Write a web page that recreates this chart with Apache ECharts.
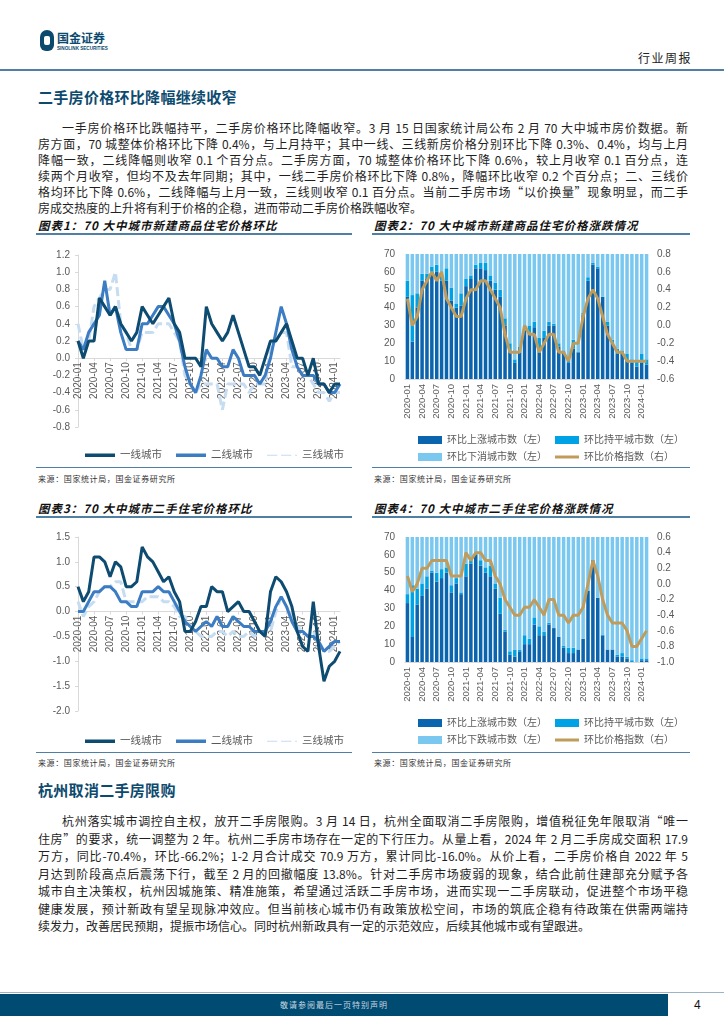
<!DOCTYPE html>
<html><head><meta charset="utf-8">
<script src="https://cdn.jsdelivr.net/npm/echarts@6/dist/echarts.min.js"></script>
<style>
body{margin:0;background:#fff;}
#page{position:relative;width:724px;height:1024px;overflow:hidden;background:#fff;font-family:"Noto Sans CJK SC","Noto Sans",sans-serif;color:#1a1a1a;}
.h1{position:absolute;left:38px;font-size:15px;font-weight:bold;color:#0c4a6e;letter-spacing:0.3px;line-height:18px;}
.para{position:absolute;left:38px;width:650px;font-size:12px;line-height:17.5px;color:#1f1f1f;}
.para div{text-align:justify;text-align-last:justify;}
.para div.last{text-align-last:left;}
.para div.ind{padding-left:24px;}
.ct{position:absolute;font-size:11.5px;font-weight:bold;font-style:italic;letter-spacing:1px;color:#111;line-height:14px;}
.rule{position:absolute;height:1.5px;background:#4f7fa3;}
.rule2{position:absolute;height:1px;background:#4f7fa3;}
.src{position:absolute;font-size:8px;color:#333;letter-spacing:0.6px;line-height:10px;}
.chart{position:absolute;}
</style></head>
<body><div id="page">

<!-- header -->
<div style="position:absolute;left:40px;top:30px;width:14px;height:21px;border-radius:7px 7px 6px 6px;background:#0b4a6e;"></div>
<div style="position:absolute;left:44px;top:36px;width:6px;height:9px;border-radius:2px;background:#fff;"></div>
<div style="position:absolute;left:57px;top:31px;font-size:12px;font-weight:bold;color:#0b4a6e;letter-spacing:0px;line-height:14px;">国金证券</div>
<div style="position:absolute;left:57px;top:46px;font-size:4.6px;font-weight:bold;color:#0b4a6e;font-family:'Liberation Sans',sans-serif;line-height:6px;letter-spacing:0px;">SINOLINK SECURITIES</div>
<div style="position:absolute;left:638px;top:51px;font-size:12px;letter-spacing:1.5px;color:#222;line-height:14px;">行业周报</div>
<div style="position:absolute;left:0;top:69px;width:724px;height:2px;background:#4f7fa3;"></div>

<div class="h1" style="top:88px;">二手房价格环比降幅继续收窄</div>
<div class="para" style="top:120px;line-height:16px;">
<div class="ind">一手房价格环比跌幅持平，二手房价格环比降幅收窄。3 月 15 日国家统计局公布 2 月 70 大中城市房价数据。新</div>
<div>房方面，70 城整体价格环比下降 0.4%，与上月持平；其中一线、三线新房价格分别环比下降 0.3%、0.4%，均与上月</div>
<div>降幅一致，二线降幅则收窄 0.1 个百分点。二手房方面，70 城整体价格环比下降 0.6%，较上月收窄 0.1 百分点，连</div>
<div>续两个月收窄，但均不及去年同期；其中，一线二手房价格环比下降 0.8%，降幅环比收窄 0.2 个百分点；二、三线价</div>
<div>格均环比下降 0.6%，二线降幅与上月一致，三线则收窄 0.1 百分点。当前二手房市场“以价换量”现象明显，而二手</div>
<div class="last">房成交热度的上升将有利于价格的企稳，进而带动二手房价格跌幅收窄。</div>
</div>

<!-- chart titles row 1 -->
<div class="ct" style="left:38px;top:218px;">图表1：70 大中城市新建商品住宅价格环比</div>
<div class="rule" style="left:36px;top:233px;width:316px;"></div>
<div class="ct" style="left:374px;top:218px;">图表2：70 大中城市新建商品住宅价格涨跌情况</div>
<div class="rule" style="left:372px;top:233px;width:318px;"></div>

<div id="c1" class="chart" style="left:30px;top:240px;width:330px;height:224px;"></div>
<div id="c2" class="chart" style="left:370px;top:240px;width:345px;height:224px;"></div>

<div class="rule2" style="left:36px;top:467px;width:316px;"></div>
<div class="rule2" style="left:372px;top:467px;width:318px;"></div>
<div class="src" style="left:38px;top:474px;">来源：国家统计局，国金证券研究所</div>
<div class="src" style="left:374px;top:474px;">来源：国家统计局，国金证券研究所</div>

<!-- chart titles row 2 -->
<div class="ct" style="left:38px;top:501px;">图表3：70 大中城市二手住宅价格环比</div>
<div class="rule" style="left:36px;top:516px;width:316px;"></div>
<div class="ct" style="left:374px;top:501px;">图表4：70 大中城市二手住宅价格涨跌情况</div>
<div class="rule" style="left:372px;top:516px;width:318px;"></div>

<div id="c3" class="chart" style="left:30px;top:525px;width:330px;height:224px;"></div>
<div id="c4" class="chart" style="left:370px;top:525px;width:345px;height:224px;"></div>

<div class="rule2" style="left:36px;top:752px;width:316px;"></div>
<div class="rule2" style="left:372px;top:752px;width:318px;"></div>
<div class="src" style="left:38px;top:758px;">来源：国家统计局，国金证券研究所</div>
<div class="src" style="left:374px;top:758px;">来源：国家统计局，国金证券研究所</div>

<div class="h1" style="top:781px;">杭州取消二手房限购</div>
<div class="para" style="top:812px;">
<div class="ind">杭州落实城市调控自主权，放开二手房限购。3 月 14 日，杭州全面取消二手房限购，增值税征免年限取消“唯一</div>
<div>住房”的要求，统一调整为 2 年。杭州二手房市场存在一定的下行压力。从量上看，2024 年 2 月二手房成交面积 17.9</div>
<div>万方，同比-70.4%，环比-66.2%；1-2 月合计成交 70.9 万方，累计同比-16.0%。从价上看，二手房价格自 2022 年 5</div>
<div>月达到阶段高点后震荡下行，截至 2 月的回撤幅度 13.8%。针对二手房市场疲弱的现象，结合此前住建部充分赋予各</div>
<div>城市自主决策权，杭州因城施策、精准施策，希望通过活跃二手房市场，进而实现一二手房联动，促进整个市场平稳</div>
<div>健康发展，预计新政有望呈现脉冲效应。但当前核心城市仍有政策放松空间，市场的筑底企稳有待政策在供需两端持</div>
<div class="last">续发力，改善居民预期，提振市场信心。同时杭州新政具有一定的示范效应，后续其他城市或有望跟进。</div>
</div>

<!-- footer -->
<div style="position:absolute;left:0;top:992px;width:724px;height:1px;background:#9bb4c8;"></div>
<div style="position:absolute;left:0;top:994px;width:668px;height:22px;background:#004b71;"></div>
<div style="position:absolute;left:0;top:999px;width:668px;text-align:center;font-size:8px;color:#c9d6e0;letter-spacing:1px;line-height:12px;">敬请参阅最后一页特别声明</div>
<div style="position:absolute;left:694px;top:997px;font-size:12px;color:#111;font-family:'Liberation Sans',sans-serif;line-height:16px;">4</div>

</div>
<script>
// ---------- data ----------
const months = ["2020-01","2020-02","2020-03","2020-04","2020-05","2020-06","2020-07","2020-08","2020-09","2020-10","2020-11","2020-12",
"2021-01","2021-02","2021-03","2021-04","2021-05","2021-06","2021-07","2021-08","2021-09","2021-10","2021-11","2021-12",
"2022-01","2022-02","2022-03","2022-04","2022-05","2022-06","2022-07","2022-08","2022-09","2022-10","2022-11","2022-12",
"2023-01","2023-02","2023-03","2023-04","2023-05","2023-06","2023-07","2023-08","2023-09","2023-10","2023-11","2023-12",
"2024-01","2024-02"];

// 图表1 新建商品住宅价格环比 (%)
const newTier1 = [0.2,0.0,0.2,0.2,0.7,0.6,0.5,0.6,0.4,0.3,0.2,0.3,0.6,0.5,0.4,0.5,0.6,0.7,0.4,0.3,0.0,0.0,0.0,-0.1,0.6,0.4,0.3,0.2,0.3,0.5,0.3,0.1,-0.1,-0.1,-0.2,0.0,0.2,0.2,0.3,0.4,0.2,0.0,0.0,-0.2,0.0,-0.3,-0.3,-0.4,-0.3,-0.3];
const newTier2 = [0.2,0.1,0.3,0.4,0.5,0.9,0.5,0.6,0.3,0.1,0.1,0.1,0.4,0.4,0.5,0.6,0.6,0.5,0.4,0.2,-0.1,-0.3,-0.4,-0.2,0.1,0.0,0.0,-0.1,-0.1,0.1,0.0,-0.2,-0.2,-0.2,-0.3,-0.2,0.0,0.3,0.6,0.4,0.1,-0.1,-0.2,-0.2,-0.2,-0.3,-0.3,-0.4,-0.4,-0.3];
const newTier3 = [0.4,0.1,0.2,0.6,0.7,0.8,0.8,1.0,0.4,0.3,0.1,0.1,0.3,0.3,0.3,0.4,0.4,0.4,0.3,0.2,-0.2,-0.3,-0.4,-0.3,-0.3,-0.3,-0.3,-0.6,-0.3,-0.3,-0.3,-0.3,-0.4,-0.3,-0.3,-0.3,0.1,0.2,0.3,0.3,-0.1,-0.1,-0.2,-0.2,-0.3,-0.4,-0.4,-0.5,-0.4,-0.4];

// 图表2 新建商品住宅涨跌城市数 / 环比价格指数
const newUp   = [46,21,40,55,56,60,60,55,55,44,40,41,52,56,62,62,61,55,50,46,30,15,9,15,27,26,29,15,23,30,30,18,15,9,17,15,36,55,64,62,46,30,20,14,14,10,9,7,9,8];
const newFlat = [9,26,8,4,3,3,4,3,7,7,2,7,4,2,2,3,4,3,4,4,4,5,2,3,3,4,3,8,4,2,1,2,1,2,5,0,1,2,1,1,0,2,2,3,2,4,2,3,5,3];
const newDown = [15,23,22,11,11,7,6,12,8,19,28,22,14,12,6,5,5,12,16,20,36,50,59,52,40,40,38,47,43,38,39,50,54,59,48,55,33,13,5,7,24,38,48,53,54,56,59,60,56,59];
const newIndex = [0.3,0.0,0.1,0.4,0.5,0.6,0.5,0.6,0.3,0.2,0.1,0.1,0.3,0.4,0.4,0.5,0.5,0.4,0.3,0.2,-0.1,-0.3,-0.3,-0.3,0.0,-0.1,-0.1,-0.3,-0.2,-0.1,-0.1,-0.3,-0.3,-0.4,-0.2,-0.2,0.1,0.3,0.4,0.3,0.1,-0.1,-0.2,-0.3,-0.3,-0.4,-0.4,-0.4,-0.4,-0.4];

// 图表3 二手住宅价格环比 (%)
const oldTier1 = [0.5,0.2,0.4,1.1,1.1,1.0,0.7,1.0,0.9,0.5,0.5,0.6,1.3,1.1,1.0,0.8,0.6,0.7,0.4,0.2,-0.4,-0.4,-0.2,0.1,0.1,0.5,0.4,0.4,0.0,0.1,0.2,0.0,0.0,-0.2,-0.4,-0.5,0.4,0.7,0.6,0.4,0.1,-0.4,-0.7,-0.8,0.2,-0.7,-1.4,-1.1,-1.0,-0.8];
const oldTier2 = [0.0,0.0,0.2,0.4,0.4,0.5,0.5,0.4,0.2,0.2,0.1,0.1,0.4,0.4,0.4,0.5,0.4,0.4,0.2,0.0,-0.2,-0.3,-0.4,-0.3,-0.2,-0.3,-0.1,-0.3,-0.3,-0.1,-0.2,-0.3,-0.3,-0.4,-0.4,-0.4,-0.2,0.1,0.3,0.1,-0.2,-0.4,-0.4,-0.5,-0.5,-0.6,-0.8,-0.7,-0.6,-0.6];
const oldTier3 = [0.2,-0.1,0.1,0.2,0.4,0.5,0.5,0.6,0.6,0.2,0.2,0.2,0.2,0.3,0.3,0.3,0.2,0.2,0.1,-0.1,-0.1,-0.3,-0.4,-0.5,-0.5,-0.5,-0.4,-0.4,-0.5,-0.4,-0.5,-0.5,-0.4,-0.5,-0.4,-0.4,-0.4,0.0,0.3,0.1,-0.1,-0.3,-0.4,-0.5,-0.4,-0.6,-0.8,-0.8,-0.7,-0.6];

// 图表4 二手住宅涨跌城市数 / 环比价格指数
const oldUp   = [33,14,32,37,41,50,45,47,50,39,44,38,48,55,60,54,50,48,41,27,17,4,3,6,10,10,21,15,15,21,19,14,8,5,5,7,13,40,57,36,15,7,7,3,3,2,0,0,1,1];
const oldFlat = [5,29,9,7,7,1,5,5,3,4,3,1,7,2,1,3,3,6,3,9,1,2,4,1,5,3,4,5,2,1,0,0,1,3,3,0,0,0,0,0,0,0,0,1,2,1,1,0,1,1];
const oldDown = [32,27,29,26,22,19,20,18,17,27,23,31,15,13,9,13,17,16,26,34,52,64,63,63,55,57,45,50,53,48,51,56,61,62,62,63,57,30,13,34,55,63,63,66,65,67,69,70,68,68];
const oldIndex = [0.1,-0.1,0.0,0.2,0.2,0.3,0.3,0.3,0.3,0.1,0.1,0.1,0.4,0.3,0.4,0.4,0.3,0.3,0.1,0.0,-0.2,-0.3,-0.4,-0.4,-0.3,-0.3,-0.2,-0.3,-0.4,-0.2,-0.2,-0.4,-0.4,-0.5,-0.4,-0.4,-0.3,0.0,0.3,0.1,-0.2,-0.4,-0.5,-0.5,-0.5,-0.6,-0.8,-0.8,-0.7,-0.6];

// ---------- styles ----------
const FONT = "'Liberation Sans','Noto Sans CJK SC',sans-serif";
const AXC = '#d9d9d9', LBC = '#595959';
const C1 = '#0e4b70', C2 = '#3b7cc2', C3 = '#c6dcf1';
const UPC = '#0b64ae', FLC = '#00a2e6', DNC = '#7ac8f0', IDX = '#bf9c5b';
const f1 = v => v.toFixed(1);
const DASH_ICON = 'path://M0,0h11v1h-11z M15,0h11v1h-11z M30,0h2v1h-2z';
const GOLD_ICON = 'path://M0,0h24v0.01h-24z M0,2.5h24v3h-24z M0,7.99h24v0.01h-24z';

function lineOpt(gridTop, gridH, yMin, yMax, yInt, d1, d2, d3, legTop) {
  const zeroOffset = -gridH * (-yMin) / (yMax - yMin);
  return {
    animation: false,
    textStyle: { fontFamily: FONT },
    grid: { left: 48, top: gridTop, width: 262, height: gridH },
    xAxis: { type: 'category', data: months, boundaryGap: false, position: 'bottom', offset: zeroOffset,
      axisLine: { onZero: false, lineStyle: { color: AXC } },
      axisTick: { show: true, interval: 2, length: 3, lineStyle: { color: AXC } },
      axisLabel: { interval: 2, rotate: 90, fontSize: 10, color: LBC, margin: 4 },
      splitLine: { show: false } },
    yAxis: { type: 'value', min: yMin, max: yMax, interval: yInt,
      axisLine: { show: true, lineStyle: { color: AXC } },
      axisTick: { show: true, length: 3, lineStyle: { color: AXC } },
      splitLine: { show: false },
      axisLabel: { fontSize: 10, color: LBC, margin: 8, formatter: f1 } },
    legend: { top: legTop, left: 50, itemWidth: 30, itemHeight: 3.5, itemGap: 14,
      textStyle: { fontSize: 10.5, color: LBC, fontFamily: FONT },
      data: [{ name: '一线城市', icon: 'rect' }, { name: '二线城市', icon: 'rect' }, { name: '三线城市', icon: DASH_ICON }] },
    series: [
      { type: 'line', name: '一线城市', data: d1, symbol: 'none', z: 4, lineStyle: { width: 3, color: C1 }, itemStyle: { color: C1 } },
      { type: 'line', name: '二线城市', data: d2, symbol: 'none', z: 3, lineStyle: { width: 3, color: C2 }, itemStyle: { color: C2 } },
      { type: 'line', name: '三线城市', data: d3, symbol: 'none', z: 2, lineStyle: { width: 3, color: C3, type: [9, 4] }, itemStyle: { color: C3 } }
    ]
  };
}

function barOpt(gridTop, rMin, rMax, up, flat, down, idx, downName, leg1, leg2) {
  return {
    animation: false,
    textStyle: { fontFamily: FONT },
    grid: { left: 35, top: gridTop, width: 244, height: 125 },
    xAxis: { type: 'category', data: months, boundaryGap: true,
      axisLine: { lineStyle: { color: AXC } },
      axisTick: { show: false },
      axisLabel: { interval: 2, rotate: 90, fontSize: 9.5, color: LBC, margin: 5 } },
    yAxis: [
      { type: 'value', min: 0, max: 70, interval: 10, splitLine: { show: false },
        axisLine: { show: false }, axisTick: { show: false },
        axisLabel: { fontSize: 10, color: LBC, margin: 10 } },
      { type: 'value', min: rMin, max: rMax, interval: 0.2, splitLine: { show: false },
        axisLine: { show: false }, axisTick: { show: false },
        axisLabel: { fontSize: 10, color: LBC, margin: 8, formatter: f1 } }
    ],
    legend: [
      { top: leg1, left: 43, itemWidth: 24, itemHeight: 8, itemGap: 8, icon: 'rect',
        textStyle: { fontSize: 10, color: LBC, fontFamily: FONT },
        data: ['环比上涨城市数（左）', '环比持平城市数（左）'] },
      { top: leg2, left: 43, itemWidth: 24, itemHeight: 8, itemGap: 8,
        textStyle: { fontSize: 10, color: LBC, fontFamily: FONT },
        data: [{ name: downName, icon: 'rect' }, { name: '环比价格指数（右）', icon: GOLD_ICON }] }
    ],
    series: [
      { type: 'bar', name: '环比上涨城市数（左）', stack: 'n', data: up, barCategoryGap: '28%', itemStyle: { color: UPC } },
      { type: 'bar', name: '环比持平城市数（左）', stack: 'n', data: flat, itemStyle: { color: FLC } },
      { type: 'bar', name: downName, stack: 'n', data: down, itemStyle: { color: DNC } },
      { type: 'line', name: '环比价格指数（右）', yAxisIndex: 1, data: idx, symbol: 'none', z: 5,
        lineStyle: { width: 3, color: IDX }, itemStyle: { color: IDX } }
    ]
  };
}

echarts.init(document.getElementById('c1')).setOption(
  lineOpt(15, 172, -0.8, 1.2, 0.2, newTier1, newTier2, newTier3, 205));
echarts.init(document.getElementById('c2')).setOption(
  barOpt(14, -0.6, 0.8, newUp, newFlat, newDown, newIndex, '环比下消城市数（左）', 190, 207));
echarts.init(document.getElementById('c3')).setOption(
  lineOpt(12, 174, -2.0, 1.5, 0.5, oldTier1, oldTier2, oldTier3, 206));
echarts.init(document.getElementById('c4')).setOption(
  barOpt(12, -1.0, 0.6, oldUp, oldFlat, oldDown, oldIndex, '环比下跌城市数（左）', 188, 205));
</script>
</body></html>
